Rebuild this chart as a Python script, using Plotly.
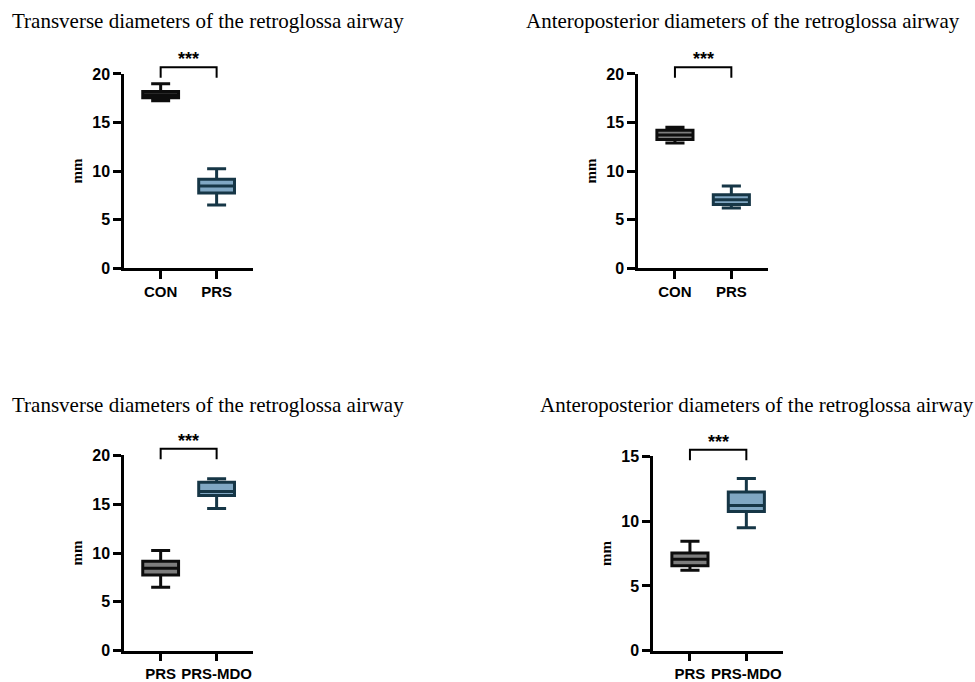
import plotly.graph_objects as go

# ---- data (mm) ----
titles = [
    "Transverse diameters of the retroglossa airway",
    "Anteroposterior diameters of the retroglossa airway",
    "Transverse diameters of the retroglossa airway",
    "Anteroposterior diameters of the retroglossa airway",
]
groups_top = ["CON", "PRS"]
groups_bottom = ["PRS", "PRS-MDO"]

# five-number summaries per group: [lower whisker, q1, median, q3, upper whisker]
tv_con = [17.25, 17.55, 17.85, 18.2, 19.0]
tv_prs = [6.5, 7.75, 8.45, 9.15, 10.25]
ap_con = [12.9, 13.25, 13.7, 14.2, 14.5]
ap_prs = [6.2, 6.55, 7.05, 7.55, 8.45]
tv_mdo = [14.55, 15.9, 16.3, 17.25, 17.6]
ap_mdo = [9.5, 10.75, 11.2, 12.25, 13.3]

y_max = [20, 20, 20, 15]
y_ticks = [[0, 5, 10, 15, 20], [0, 5, 10, 15, 20], [0, 5, 10, 15, 20], [0, 5, 10, 15]]
significance = ["***", "***", "***", "***"]

GRAY_FILL, GRAY_LINE = "#7d7d7d", "#0d0d0d"
BLUE_FILL, BLUE_LINE = "#80a7c3", "#163646"

panels = [
    dict(groups=groups_top, stats=[tv_con, tv_prs]),
    dict(groups=groups_top, stats=[ap_con, ap_prs]),
    dict(groups=groups_bottom, stats=[tv_prs, tv_mdo]),
    dict(groups=groups_bottom, stats=[ap_prs, ap_mdo]),
]

W, H = 975, 682


def py(v):
    # vertical page position -> figure pixel (page adds a small top offset)
    return (v - 8.8) / 0.976


# plot-area boxes on the page: (left, right, top, bottom)
areas = [(124, 253, 75, 270), (638, 768, 75, 270), (124, 253, 458, 654), (653, 783, 459, 654)]
title_pos = [(10, 22), (524, 22), (10, 407), (538, 407)]
x_range = [-0.655, 1.65]

fig = go.Figure()
layout = dict(
    width=W, height=H, margin=dict(l=0, r=0, t=0, b=0),
    paper_bgcolor="white", plot_bgcolor="white", showlegend=False,
)
shapes, annotations = [], []
tick_font = dict(family="Liberation Sans", size=16, color="black", weight="bold")

for i, p in enumerate(panels):
    n = "" if i == 0 else str(i + 1)
    xa, ya = "x" + n, "y" + n
    l, r, t, b = areas[i]
    t, b = py(t), py(b)
    layout["xaxis" + n] = dict(
        domain=[l / W, r / W], range=x_range, anchor=ya,
        tickvals=[0, 1], ticktext=p["groups"],
        showline=True, linecolor="black", linewidth=2.5,
        ticks="outside", ticklen=8, tickwidth=2.5, tickcolor="black",
        showgrid=False, zeroline=False, fixedrange=True,
        tickfont=dict(family="Liberation Sans", size=15, color="black", weight="bold"),
    )
    layout["yaxis" + n] = dict(
        domain=[1 - b / H, 1 - t / H], range=[0, y_max[i]], anchor=xa,
        tickvals=y_ticks[i],
        showline=True, linecolor="black", linewidth=2.5,
        ticks="outside", ticklen=8, tickwidth=2.5, tickcolor="black",
        showgrid=False, zeroline=False, fixedrange=True,
        tickfont=tick_font,
        title=dict(text="mm", standoff=6,
                   font=dict(family="Liberation Serif", size=15, color="black", weight="bold")),
    )
    for k, s in enumerate(p["stats"]):
        gray = p["groups"][k] != "PRS-MDO" and not (p["groups"][k] == "PRS" and i < 2)
        fig.add_trace(go.Box(
            x=[k], lowerfence=[s[0]], q1=[s[1]], median=[s[2]], q3=[s[3]], upperfence=[s[4]],
            width=0.64, whiskerwidth=0.53, boxpoints=False,
            fillcolor=GRAY_FILL if gray else BLUE_FILL,
            line=dict(color=GRAY_LINE if gray else BLUE_LINE, width=3),
            xaxis=xa, yaxis=ya, hoverinfo="skip",
        ))

    # significance bracket (domain coordinates so it can sit above the axis top)
    span = x_range[1] - x_range[0]
    x0d = (0 - x_range[0]) / span
    x1d = (1 - x_range[0]) / span
    top = 1.0 + 6.8 / (b - t)
    low = 1.0 - 4.0 / (b - t)
    shapes.append(dict(
        type="path", xref=xa + " domain", yref=ya + " domain",
        path=f"M {x0d},{low} L {x0d},{top} L {x1d},{top} L {x1d},{low}",
        line=dict(color="black", width=2),
    ))
    annotations.append(dict(
        text=significance[i], xref=xa + " domain", yref=ya + " domain",
        x=(x0d + x1d) / 2, y=top, yanchor="bottom", yshift=-4, showarrow=False,
        font=dict(family="Liberation Sans", size=18, color="black", weight="bold"),
    ))
    tx, ty = title_pos[i]
    annotations.append(dict(
        text=titles[i], xref="paper", yref="paper", x=tx / W, y=1 - py(ty) / H,
        xanchor="left", yanchor="middle", showarrow=False,
        font=dict(family="Liberation Serif", size=21, color="black"),
    ))

layout["shapes"] = shapes
layout["annotations"] = annotations
fig.update_layout(**layout)
fig.write_html("out.html")
